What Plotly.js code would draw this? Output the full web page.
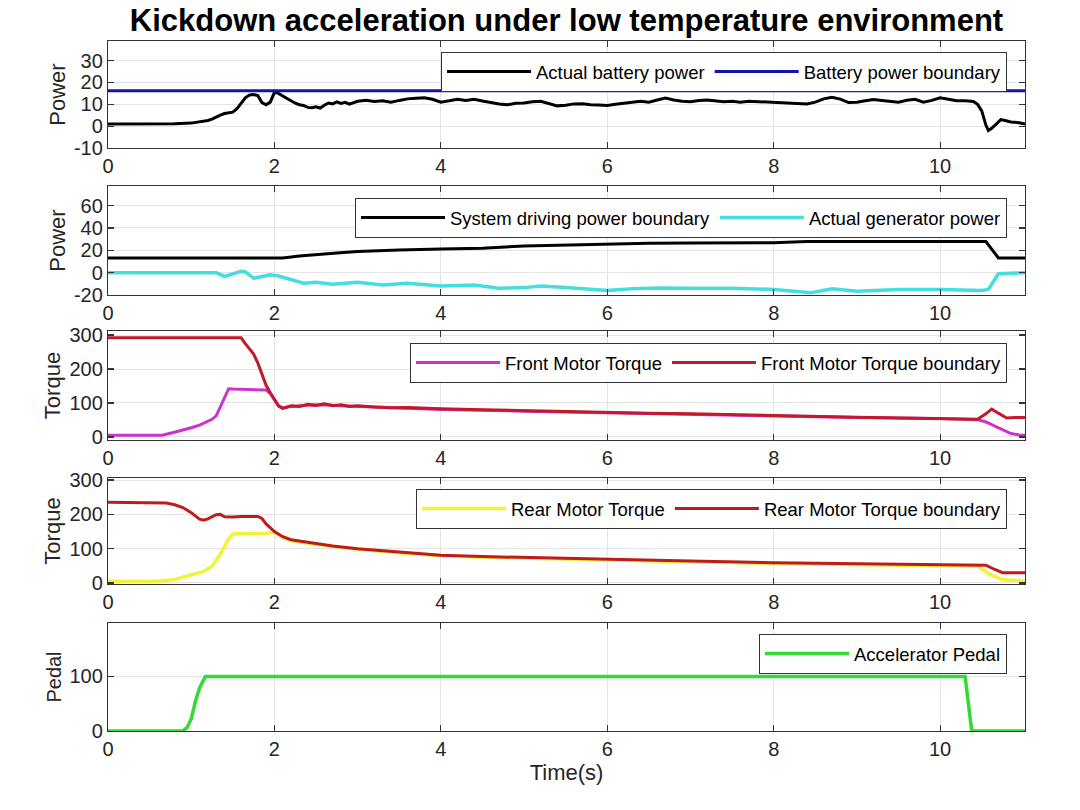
<!DOCTYPE html>
<html>
<head>
<meta charset="utf-8">
<script src="https://cdn.plot.ly/plotly-3.0.1.min.js"></script>
<style>html,body{margin:0;padding:0;background:#fff;}#chart{width:1080px;height:810px;}</style>
</head>
<body>
<div id="chart"></div>
<script>
// ---------- Data ----------
const chartTitle = "Kickdown acceleration under low temperature environment";
const xTickVals = [0, 2, 4, 6, 8, 10];

// Panel 1: battery power
const tBattery = [0,0.5,0.8,1.0,1.1,1.2,1.25,1.3,1.35,1.4,1.45,1.5,1.55,1.6,1.65,1.7,1.75,1.8,1.85,1.9,1.95,2.0,2.05,2.1,2.15,2.2,2.25,2.3,2.35,2.4,2.45,2.5,2.55,2.6,2.65,2.7,2.75,2.8,2.85,2.9,2.95,
  3.0,3.1,3.2,3.3,3.4,3.5,3.6,3.7,3.8,3.9,4.0,4.1,4.2,4.3,4.4,4.5,4.6,4.7,4.8,4.9,5.0,5.1,5.2,5.3,5.4,5.5,5.6,5.7,5.8,5.9,
  6.0,6.1,6.2,6.3,6.4,6.5,6.6,6.7,6.8,6.9,7.0,7.1,7.2,7.3,7.4,7.5,7.6,7.7,7.8,7.9,8.0,8.1,8.2,8.3,8.4,8.5,8.6,8.7,8.8,8.9,
  9.0,9.1,9.2,9.3,9.4,9.5,9.6,9.7,9.8,9.9,10.0,10.1,10.2,10.3,10.4,10.45,10.5,10.55,10.58,10.62,10.68,10.73,10.78,10.85,10.95,11.02];
const actualBatteryPower = [1,1,1.1,1.4,1.9,2.6,3.2,4.2,5,5.8,6.2,6.4,8,10.6,13,14.3,14.5,14,10.8,9.8,11,15.5,15,13.8,12.6,11.5,10.5,9.8,9.5,8.6,8.4,8.9,8.3,9.6,10.6,10.2,11.1,10.4,10.9,10.1,10.8,
  11.4,11.9,11.3,11.6,11.0,11.8,12.5,12.8,13.0,12.3,11.0,11.6,12.3,11.8,12.3,11.5,10.8,10.2,9.8,10.5,10.6,11.2,11.4,10.5,9.3,9.6,10.2,10.3,9.8,9.7,
  9.5,10.0,10.6,10.9,11.4,11.0,12.0,12.9,12.0,11.4,11.2,11.8,12.0,11.6,11.2,11.4,11.0,11.4,11.2,11.0,10.9,10.8,10.6,10.5,10.2,11.0,12.5,13.2,12.4,10.8,
  11.0,11.6,12.2,11.8,11.4,11.0,11.9,12.3,11.0,11.8,13.0,12.2,11.6,11.6,11.3,10.0,7.0,0.5,-2.0,-1.0,1.2,3.0,2.6,1.9,1.6,1.0];
const tBoundary1 = [0, 11.02];
const batteryPowerBoundary = [16.2, 16.2];

// Panel 2: system / generator power
const tSystem = [0,2.1,2.3,2.5,2.75,3.0,3.5,4.0,4.5,5.0,5.5,6.0,6.5,7.0,7.5,8.0,8.4,9.0,10.0,10.55,10.7,11.02];
const systemDrivingPowerBoundary = [13.1,13.1,14.8,16.2,17.6,18.8,20.3,21.1,21.9,23.8,24.8,25.6,26.4,26.6,26.6,26.8,27.8,27.8,27.8,27.8,13.2,13.2];
const tGenerator = [0,1.3,1.4,1.5,1.6,1.65,1.75,1.85,1.95,2.05,2.2,2.35,2.5,2.7,3.0,3.3,3.6,4.0,4.4,4.7,5.0,5.2,5.5,6.0,6.3,6.6,7.0,7.5,8.0,8.45,8.7,9.0,9.5,10.0,10.5,10.58,10.7,11.02];
const actualGeneratorPower = [0,0,-3.4,-1,1.2,0.6,-5,-3.4,-2,-3,-6,-9.4,-8.7,-10.3,-8.7,-11,-9.4,-12,-11,-14,-13.4,-12,-13.4,-16,-14.4,-13.7,-14,-14,-15,-18,-14.4,-16.6,-15,-15,-16,-15,-1,0];

// Panel 3: front motor torque
const tFrontTorque = [0,0.65,0.8,0.9,1.0,1.1,1.2,1.25,1.3,1.35,1.4,1.45,1.5,1.7,1.8,1.9,1.95,2.0,2.05,2.1,2.2,2.4,2.6,2.8,3.0,3.5,4.0,5.0,6.0,7.0,8.0,9.0,10.0,10.45,10.55,10.65,10.75,10.85,10.95,11.02];
const frontMotorTorque = [5,5,14,20,27,35,45,52,62,90,118,142,141,139,139,138,128,110,90,84,90,93,95,92,90,85,81,76,71,67,62,57,54,51,44,32,20,10,6,5];
const tFrontBound = [0,1.6,1.65,1.7,1.75,1.8,1.85,1.9,1.95,2.0,2.05,2.1,2.15,2.2,2.3,2.4,2.5,2.6,2.7,2.8,2.9,3.0,3.2,3.4,3.6,3.8,4.0,4.5,5.0,5.5,6.0,6.5,7.0,7.5,8.0,8.5,9.0,9.5,10.0,10.45,10.55,10.62,10.7,10.8,10.9,11.02];
const frontMotorTorqueBoundary = [292,292,275,258,244,218,185,152,130,112,92,85,88,92,90,96,93,98,92,95,90,92,88,86,87,84,83,80,77,75,72,70,68,65,63,60,58,56,55,52,68,82,70,56,57,57];

// Panel 4: rear motor torque
const tRearTorque = [0,0.6,0.8,1.0,1.15,1.25,1.35,1.45,1.5,1.9,2.0,2.1,2.2,2.4,2.7,3.0,3.5,4.0,4.5,5.0,6.0,7.0,8.0,9.0,10.0,10.45,10.6,10.75,11.02];
const rearMotorTorque = [5,5,10,25,34,49,84,128,143,145,148,133,124,116,106,98,88,79,75,72,67,62,57,54,50,49,25,10,5];
const tRearBound = [0,0.6,0.7,0.8,0.9,1.0,1.1,1.15,1.2,1.3,1.35,1.4,1.5,1.6,1.8,1.85,1.9,2.0,2.1,2.2,2.4,2.7,3.0,3.5,4.0,4.5,5.0,5.5,6.0,7.0,8.0,9.0,10.0,10.55,10.65,10.75,11.02];
const rearMotorTorqueBoundary = [235,235,233,228,220,205,186,183,187,199,200,193,192,194,194,188,172,150,135,126,118,108,100,90,81,77,74,72,69,64,59,56,52,52,40,30,30];

// Panel 5: accelerator pedal
const tPedal = [0,0.9,0.95,1.0,1.05,1.1,1.17,10.3,10.38,11.02];
const acceleratorPedal = [0,0,6,22,54,79,100,100,0,0];

const legendNames = [
  ["Actual battery power", "Battery power boundary"],
  ["System driving power boundary", "Actual generator power"],
  ["Front Motor Torque", "Front Motor Torque boundary"],
  ["Rear Motor Torque", "Rear Motor Torque boundary"],
  ["Accelerator Pedal"]
];
const yTitles = ["Power", "Power", "Torque", "Torque", "Pedal"];
const yTickVals = [[-10,0,10,20,30],[-20,0,20,40,60],[0,100,200,300],[0,100,200,300],[0,100]];
const yTickText = [["-10","0","10","20","30"],["-20","0","20","40","60"],["0","100","200","300"],["0","100","200","300"],["0","100"]];
const yRanges = [[-10,39],[-20,77.5],[-9,312],[-3,306],[0,198]];

// ---------- Traces ----------
const FONT = "Liberation Sans, Arial, Helvetica, sans-serif";
function line(x, y, name, color, width, axis, legend) {
  return {x: x, y: y, name: name, type: "scatter", mode: "lines",
    line: {color: color, width: width}, xaxis: "x" + axis, yaxis: "y" + axis, legend: legend};
}
const data = [
  line(tBattery, actualBatteryPower, legendNames[0][0], "#000000", 3, "", "legend"),
  line(tBoundary1, batteryPowerBoundary, legendNames[0][1], "#1414a8", 3, "", "legend"),
  line(tSystem, systemDrivingPowerBoundary, legendNames[1][0], "#000000", 3, "2", "legend2"),
  line(tGenerator, actualGeneratorPower, legendNames[1][1], "#44dede", 3.5, "2", "legend2"),
  line(tFrontTorque, frontMotorTorque, legendNames[2][0], "#cc33cc", 3, "3", "legend3"),
  line(tFrontBound, frontMotorTorqueBoundary, legendNames[2][1], "#c21a2a", 3, "3", "legend3"),
  line(tRearTorque, rearMotorTorque, legendNames[3][0], "#f2f23a", 3.5, "4", "legend4"),
  line(tRearBound, rearMotorTorqueBoundary, legendNames[3][1], "#be1c1c", 3, "4", "legend4"),
  line(tPedal, acceleratorPedal, legendNames[4][0], "#35d935", 3.5, "5", "legend5")
];

// ---------- Layout ----------
const W = 1080, H = 810;
const plotLeft = 108, plotRight = 1025;
const panelPx = [[41,148],[186,295],[331,440],[478,584],[623,731]];
const legendTopPx = [52, 198, 343, 489, 634];
const legendRightPx = 1007;

const layout = {
  width: W, height: H,
  margin: {l: 0, r: 0, t: 0, b: 0},
  paper_bgcolor: "#ffffff", plot_bgcolor: "#ffffff",
  font: {family: FONT, size: 20, color: "#262626"},
  showlegend: true,
  title: {text: "<b>" + chartTitle + "</b>", font: {family: FONT, size: 31, color: "#000000"},
    x: (plotLeft + plotRight) / 2 / W, xanchor: "center", xref: "paper",
    y: 1 - 20 / H, yanchor: "middle", yref: "container"}
};

for (let i = 0; i < 5; i++) {
  const s = i === 0 ? "" : String(i + 1);
  const dom = [1 - panelPx[i][1] / H, 1 - panelPx[i][0] / H];
  layout["xaxis" + s] = {
    domain: [plotLeft / W, plotRight / W], anchor: "y" + s,
    range: [0, 11.02], tickvals: xTickVals, ticktext: xTickVals.map(String),
    showgrid: true, gridcolor: "#e4e4e4", gridwidth: 1,
    ticks: "inside", ticklen: 6, tickwidth: 1.2, tickcolor: "#333333",
    showline: true, linecolor: "#333333", linewidth: 1.2, mirror: "ticks",
    zeroline: false, tickfont: {size: 20, color: "#262626"}
  };
  layout["yaxis" + s] = {
    domain: dom, anchor: "x" + s, range: yRanges[i], tickvals: yTickVals[i], ticktext: yTickText[i],
    showgrid: true, gridcolor: "#e4e4e4", gridwidth: 1,
    ticks: "inside", ticklen: 6, tickwidth: 1.2, tickcolor: "#333333",
    showline: true, linecolor: "#333333", linewidth: 1.2, mirror: "ticks",
    zeroline: false, tickfont: {size: 20, color: "#262626"},
    title: {text: yTitles[i], font: {size: i === 4 ? 20 : 22, color: "#262626"}, standoff: 2}
  };
  layout["legend" + s] = {
    orientation: "h", x: legendRightPx / W, xanchor: "right",
    y: 1 - legendTopPx[i] / H, yanchor: "top",
    bgcolor: "#ffffff", bordercolor: "#333333", borderwidth: 1,
    font: {size: 18.5, color: "#000000"}, itemwidth: 84, traceorder: "normal"
  };
}
layout.xaxis5.title = {text: "Time(s)", font: {size: 22, color: "#262626"}, standoff: 4};

Plotly.newPlot("chart", data, layout, {displayModeBar: false, staticPlot: true});
</script>
</body>
</html>
